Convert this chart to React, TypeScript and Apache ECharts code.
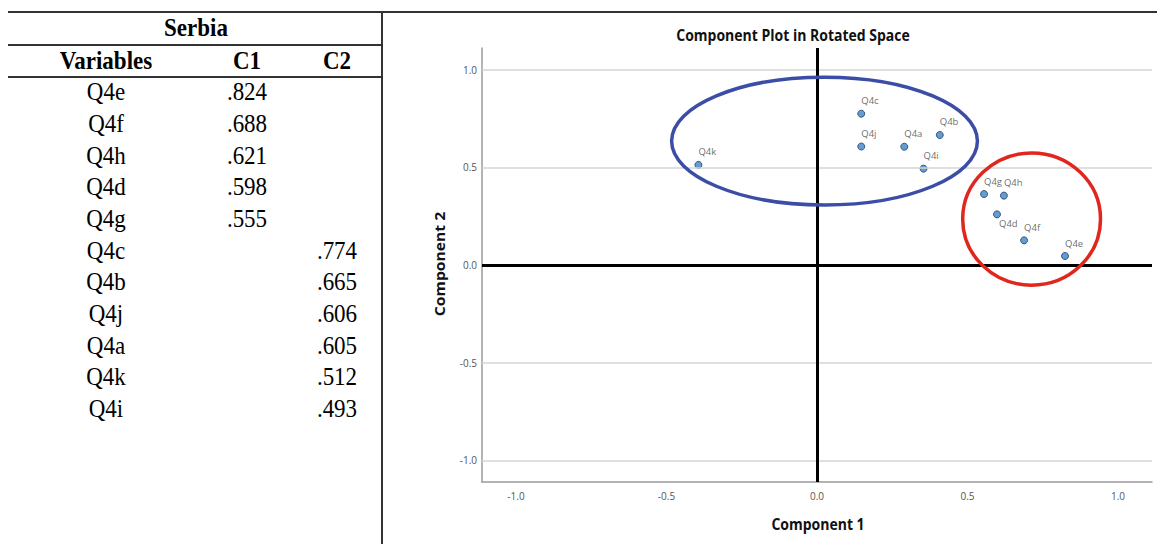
import React, { useEffect, useRef } from "react";
import * as echarts from "echarts";

// ---- Table data ----
const tableTitle = "Serbia";
const tableHeaders = ["Variables", "C1", "C2"];
const tableVariables = ["Q4e", "Q4f", "Q4h", "Q4d", "Q4g", "Q4c", "Q4b", "Q4j", "Q4a", "Q4k", "Q4i"];
const tableC1 = [".824", ".688", ".621", ".598", ".555", "", "", "", "", "", ""];
const tableC2 = ["", "", "", "", "", ".774", ".665", ".606", ".605", ".512", ".493"];

// ---- Plot data ----
const pointNames = ["Q4a", "Q4b", "Q4c", "Q4d", "Q4e", "Q4f", "Q4g", "Q4h", "Q4i", "Q4j", "Q4k"];
const component1 = [0.29, 0.408, 0.147, 0.598, 0.824, 0.688, 0.555, 0.621, 0.354, 0.147, -0.394];
const component2 = [0.605, 0.665, 0.774, 0.259, 0.046, 0.126, 0.363, 0.355, 0.493, 0.606, 0.512];
const tickValues = [-1, -0.5, 0, 0.5, 1];
const gridValues = [-1, -0.5, 0.5, 1];
const chartTitle = "Component Plot in Rotated Space";
const xTitle = "Component 1";
const yTitle = "Component 2";

// annotation ellipses in data coordinates: [cx, cy, rx, ry]
const blueEllipse = [0.025, 0.634, 0.508, 0.327];
const redEllipse = [0.713, 0.235, 0.229, 0.338];

export default function App() {
  const ref = useRef<HTMLDivElement>(null);
  useEffect(() => {
    if (!ref.current) return;
    const chart = echarts.init(ref.current, null, { renderer: "svg" });
    const sans = "Open Sans";
    const option: any = {
      animation: false,
      backgroundColor: "#fff",
      grid: { left: 482, right: 5, top: 48, bottom: 62, containLabel: false },
      xAxis: {
        type: "value",
        min: -1.113,
        max: 1.113,
        axisLine: { onZero: false, lineStyle: { color: "#9a9a9a", width: 1.5 } },
        axisTick: { show: false },
        splitLine: { show: false },
        axisLabel: {
          customValues: tickValues,
          formatter: (v: number) => v.toFixed(1),
          color: "#555",
          fontSize: 10,
          fontFamily: sans,
          margin: 9,
        },
      },
      yAxis: {
        type: "value",
        min: -1.11,
        max: 1.11,
        axisLine: { onZero: false, lineStyle: { color: "#9a9a9a", width: 1.5 } },
        axisTick: { show: false },
        splitLine: { show: false },
        axisLabel: {
          customValues: tickValues,
          formatter: (v: number) => v.toFixed(1),
          color: "#555",
          fontSize: 10,
          fontFamily: sans,
          margin: 5,
        },
      },
      series: [
        {
          type: "scatter",
          symbolSize: 7,
          itemStyle: { color: "#3D85C6", borderColor: "#1F3B66", borderWidth: 1 },
          label: {
            show: true,
            formatter: "{b}",
            position: [4, -14],
            fontSize: 9.5,
            color: "#444",
            fontFamily: sans,
          },
          data: pointNames.map((n, i) => ({
            name: n,
            value: [component1[i], component2[i]],
            label: n === "Q4d" ? { position: [6, 8] } : undefined,
          })),
          markLine: {
            silent: true,
            symbol: ["none", "none"],
            label: { show: false },
            data: [
              ...gridValues.map((v) => ({
                yAxis: v,
                lineStyle: { color: "#d4d4d4", width: 1.5, type: "solid" },
              })),
              { yAxis: 0, lineStyle: { color: "#000", width: 3, type: "solid" } },
              { xAxis: 0, lineStyle: { color: "#000", width: 3, type: "solid" } },
            ],
          },
        },
      ],
    };
    chart.setOption(option);

    const toPx = (x: number, y: number) => chart.convertToPixel({ gridIndex: 0 } as any, [x, y]) as number[];
    const ellipseGraphic = (e: number[], color: string) => {
      const c = toPx(e[0], e[1]);
      const rx = toPx(e[0] + e[2], e[1])[0] - c[0];
      const ry = c[1] - toPx(e[0], e[1] + e[3])[1];
      return {
        type: "ellipse",
        shape: { cx: c[0], cy: c[1], rx, ry },
        style: { fill: "none", stroke: color, lineWidth: 3.5 },
        z: 10,
      };
    };

    const serif = "Liberation Serif";
    const lineStyle = { stroke: "#333", lineWidth: 2 };
    const graphics: any[] = [
      { type: "line", shape: { x1: 8, y1: 12, x2: 1157, y2: 12 }, style: lineStyle },
      { type: "line", shape: { x1: 8, y1: 45, x2: 382, y2: 45 }, style: lineStyle },
      { type: "line", shape: { x1: 8, y1: 77, x2: 382, y2: 77 }, style: lineStyle },
      { type: "line", shape: { x1: 382, y1: 12, x2: 382, y2: 544 }, style: lineStyle },
      {
        type: "text",
        x: 196,
        y: 28,
        scaleY: 1.08,
        style: { text: tableTitle, fontFamily: serif, fontWeight: "bold", fontSize: 23, fill: "#000", align: "center", verticalAlign: "middle" },
      },
    ];
    const colX = [106, 247, 337];
    tableHeaders.forEach((h, i) => {
      graphics.push({
        type: "text",
        x: colX[i],
        y: 61,
        scaleY: 1.08,
        style: { text: h, fontFamily: serif, fontWeight: "bold", fontSize: 23, fill: "#000", align: "center", verticalAlign: "middle" },
      });
    });
    tableVariables.forEach((v, i) => {
      const y = 92 + i * 31.65;
      [v, tableC1[i], tableC2[i]].forEach((t, j) => {
        if (!t) return;
        graphics.push({
          type: "text",
          x: colX[j],
          y,
          scaleY: 1.08,
          style: { text: t, fontFamily: serif, fontSize: 23, fill: "#000", align: "center", verticalAlign: "middle" },
        });
      });
    });
    graphics.push(
      {
        type: "text",
        x: 793,
        y: 35,
        scaleY: 1.12,
        style: { text: chartTitle, fontFamily: sans, fontWeight: "bold", fontSize: 14, fill: "#111", align: "center", verticalAlign: "middle" },
      },
      {
        type: "text",
        x: 818,
        y: 524,
        scaleY: 1.12,
        style: { text: xTitle, fontFamily: sans, fontWeight: "bold", fontSize: 14, fill: "#111", align: "center", verticalAlign: "middle" },
      },
      {
        type: "text",
        x: 439,
        y: 264,
        rotation: Math.PI / 2,
        scaleX: 1.12,
        style: { text: yTitle, fontFamily: sans, fontWeight: "bold", fontSize: 14, fill: "#111", align: "center", verticalAlign: "middle" },
      },
      ellipseGraphic(blueEllipse, "#3B4DA6"),
      ellipseGraphic(redEllipse, "#E0261D")
    );
    chart.setOption({ graphic: graphics });

    return () => chart.dispose();
  }, []);
  return (
    <div
      ref={ref}
      style={{ position: "absolute", left: 0, top: 0, width: 1157, height: 544, background: "#fff" }}
    />
  );
}
